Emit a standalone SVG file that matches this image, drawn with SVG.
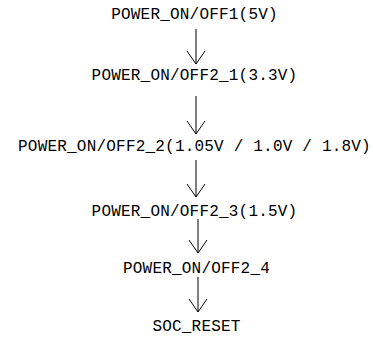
<svg xmlns="http://www.w3.org/2000/svg" width="373" height="338" viewBox="0 0 373 338">
<style>
.t{font-family:"Liberation Mono","Courier New",monospace;font-size:16px;fill:#000;text-anchor:middle;letter-spacing:0.2px}
.c line,.c polyline{stroke:#000;stroke-width:1;fill:none}
</style>
<rect width="373" height="338" fill="#fff"/>
<g class="c" id="connectors">
<line x1="196" y1="29" x2="196" y2="64"/><polyline points="187,51 196,64 205,51"/>
<line x1="196" y1="96" x2="196" y2="134"/><polyline points="187,121 196,134 205,121"/>
<line x1="196" y1="160" x2="196" y2="197"/><polyline points="187,184 196,197 205,184"/>
<line x1="198" y1="219" x2="198" y2="253"/><polyline points="189,240 198,253 207,240"/>
<line x1="198" y1="277" x2="198" y2="312"/><polyline points="189,299 198,312 207,299"/>
</g>
<g id="n1"><text class="t" x="194.5" y="19">POWER_ON/OFF1(5V)</text></g>
<g id="n2"><text class="t" x="194.5" y="80">POWER_ON/OFF2_1(3.3V)</text></g>
<g id="n3"><text class="t" x="194.5" y="151">POWER_ON/OFF2_2(1.05V / 1.0V / 1.8V)</text></g>
<g id="n4"><text class="t" x="194.5" y="216">POWER_ON/OFF2_3(1.5V)</text></g>
<g id="n5"><text class="t" x="196.5" y="273">POWER_ON/OFF2_4</text></g>
<g id="n6"><text class="t" x="196.5" y="331">SOC_RESET</text></g>
</svg>
